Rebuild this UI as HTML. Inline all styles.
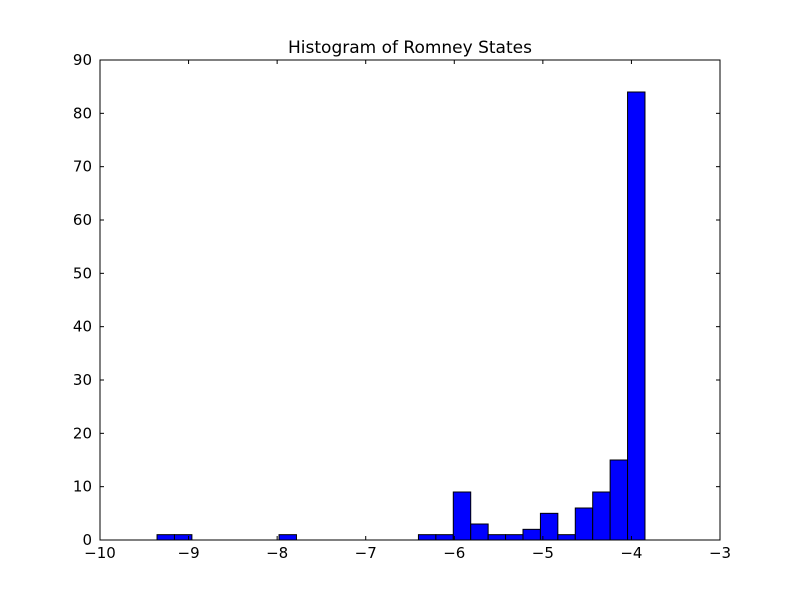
<!DOCTYPE html>
<html><head><meta charset="utf-8"><style>
html,body{margin:0;padding:0;background:#fff;}
svg text{font-family:"DejaVu Sans","Liberation Sans",sans-serif;}
</style></head><body>
<svg id="chart" width="800" height="600" xmlns="http://www.w3.org/2000/svg">
<rect width="800" height="600" fill="#fff"/>
<text x="410" y="53" font-size="17" text-anchor="middle">Histogram of Romney States</text>
<g id="bars"></g>
<g id="ticks"></g>
<rect x="100" y="60" width="620" height="480" fill="none" stroke="#000" stroke-width="1"/>
</svg>
<script>
const binStart = -9.356;
const binEnd = -3.847;
const counts = [1,1,0,0,0,0,0,1,0,0,0,0,0,0,0,1,1,9,3,1,1,2,5,1,6,9,15,84];
const xTicks = [-10,-9,-8,-7,-6,-5,-4,-3];
const yTicks = [0,10,20,30,40,50,60,70,80,90];
const xMin=-10,xMax=-3,yMin=0,yMax=90;
const L=100,R=720,T=60,B=540;
const sx=v=>L+(v-xMin)/(xMax-xMin)*(R-L);
const sy=v=>B-(v-yMin)/(yMax-yMin)*(B-T);
const NS="http://www.w3.org/2000/svg";
const bars=document.getElementById('bars');
const w=(binEnd-binStart)/counts.length;
counts.forEach((c,i)=>{
  if(c<=0)return;
  const x0=sx(binStart+i*w),x1=sx(binStart+(i+1)*w);
  const r=document.createElementNS(NS,'rect');
  r.setAttribute('x',x0);r.setAttribute('y',sy(c));
  r.setAttribute('width',x1-x0);r.setAttribute('height',sy(0)-sy(c));
  r.setAttribute('fill','#0000ff');r.setAttribute('stroke','#000');r.setAttribute('stroke-width','1');
  
  
  bars.appendChild(r);
});
const tg=document.getElementById('ticks');
function line(x1,y1,x2,y2){const l=document.createElementNS(NS,'line');l.setAttribute('x1',x1);l.setAttribute('y1',y1);l.setAttribute('x2',x2);l.setAttribute('y2',y2);l.setAttribute('stroke','#000');tg.appendChild(l);}
function txt(x,y,s,anchor){const t=document.createElementNS(NS,'text');t.setAttribute('x',x);t.setAttribute('y',y);t.setAttribute('font-size','15');t.setAttribute('text-anchor',anchor);t.textContent=s;


tg.appendChild(t);}
xTicks.forEach(v=>{const x=sx(v);line(x,B,x,B-4);line(x,T,x,T+4);txt(x,B+18,(v<0?'\u2212':'')+Math.abs(v),'middle');});
yTicks.forEach(v=>{const y=sy(v);line(L,y,L+4,y);line(R,y,R-4,y);txt(L-8,y+5,String(v),'end');});
</script>
</body></html>
